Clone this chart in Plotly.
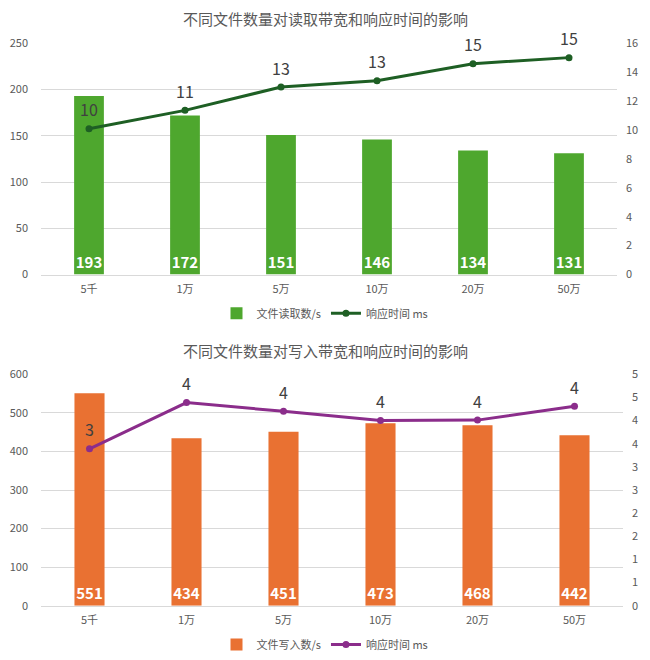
import plotly.graph_objects as go
from plotly.subplots import make_subplots

FONT = "Noto Sans CJK SC"
INK = "#595959"
GRID = "#d9d9d9"

categories = ["5千", "1万", "5万", "10万", "20万", "50万"]

read_ops = [193, 172, 151, 146, 134, 131]
read_latency = [10.09, 11.36, 12.97, 13.41, 14.59, 15.01]

write_ops = [551, 434, 451, 473, 468, 442]
write_latency = [3.39, 4.39, 4.20, 4.00, 4.01, 4.31]

read_title = "不同文件数量对读取带宽和响应时间的影响"
write_title = "不同文件数量对写入带宽和响应时间的影响"
write_right_vals = [0, 0.5, 1, 1.5, 2, 2.5, 3, 3.5, 4, 4.5, 5]
write_right_text = ["0", "1", "1", "2", "2", "3", "3", "4", "4", "5", "5"]

W, H = 650, 660


def py(y):
    # 截图纵向约有 9px 偏移和 0.975 的压缩, 这里按经验换算回 paper 坐标
    return 1 - ((y - 9) / 0.975) / H


fig = make_subplots(rows=2, cols=1, specs=[[{"secondary_y": True}], [{"secondary_y": True}]])


def add_panel(row, ops, lat, bar_name, bar_color, line_color, legend):
    fig.add_trace(go.Bar(
        x=categories, y=ops, name=bar_name, marker=dict(color=bar_color, line=dict(width=0)),
        text=[str(v) for v in ops], textposition="inside", insidetextanchor="start",
        constraintext="none", textangle=0,
        textfont=dict(color="white", size=15, family=FONT, weight="bold"),
        legend=legend), row=row, col=1, secondary_y=False)
    fig.add_trace(go.Scatter(
        x=categories, y=lat, name="响应时间 ms", mode="lines+markers",
        line=dict(color=line_color, width=3), marker=dict(size=7, color=line_color),
        legend=legend), row=row, col=1, secondary_y=True)
    # 数据标签: 透明的大点把文字往上推
    fig.add_trace(go.Scatter(
        x=categories, y=lat, mode="markers+text", texttemplate="%{y:.0f}",
        textposition="top center", showlegend=False, hoverinfo="skip", cliponaxis=False,
        marker=dict(size=12, opacity=0),
        textfont=dict(color="#404040", size=16, family=FONT)),
        row=row, col=1, secondary_y=True)


add_panel(1, read_ops, read_latency, "文件读取数/s", "#4ea72e", "#1e5f24", "legend")
add_panel(2, write_ops, write_latency, "文件写入数/s", "#e97132", "#8b2d8b", "legend2")

axis_font = dict(family=FONT, size=11, color=INK)
fig.update_layout(
    width=W, height=H, paper_bgcolor="white", plot_bgcolor="white",
    font=dict(family=FONT, color=INK, size=11),
    margin=dict(l=0, r=0, t=0, b=0), bargap=0.69,
    xaxis=dict(domain=[41 / W, 617 / W], tickfont=axis_font, showgrid=False,
               showline=True, linecolor=GRID, ticks="", ticklabelstandoff=4),
    yaxis=dict(domain=[py(274.3), py(43.3)], range=[0, 250], dtick=50, gridcolor=GRID,
               zeroline=False, tickfont=axis_font, ticklabelstandoff=12),
    yaxis2=dict(range=[0, 16], dtick=2, showgrid=False, zeroline=False,
                tickfont=axis_font, ticklabelstandoff=8),
    xaxis2=dict(domain=[41 / W, 623 / W], tickfont=axis_font, showgrid=False,
                showline=True, linecolor=GRID, ticks="", ticklabelstandoff=4),
    yaxis3=dict(domain=[py(605.3), py(374)], range=[0, 600], dtick=100, gridcolor=GRID,
                zeroline=False, tickfont=axis_font, ticklabelstandoff=12),
    yaxis4=dict(range=[0, 5], tickvals=write_right_vals, ticktext=write_right_text,
                showgrid=False, zeroline=False, tickfont=axis_font, ticklabelstandoff=8),
    legend=dict(orientation="h", x=0.5, xanchor="center", y=py(313), yanchor="middle",
                font=dict(family=FONT, size=11, color=INK), itemwidth=30),
    legend2=dict(orientation="h", x=0.5, xanchor="center", y=py(644), yanchor="middle",
                 font=dict(family=FONT, size=11, color=INK), itemwidth=30),
    annotations=[
        dict(text=read_title, x=0.5, y=py(18), xref="paper", yref="paper",
             yanchor="middle", showarrow=False, font=dict(family=FONT, size=15, color=INK)),
        dict(text=write_title, x=0.5, y=py(350), xref="paper", yref="paper",
             yanchor="middle", showarrow=False, font=dict(family=FONT, size=15, color=INK)),
    ],
)

fig.write_html("out.html", config=dict(displayModeBar=False),
               post_script="document.body.style.margin='0';"
                           "document.body.style.overflow='hidden';")
